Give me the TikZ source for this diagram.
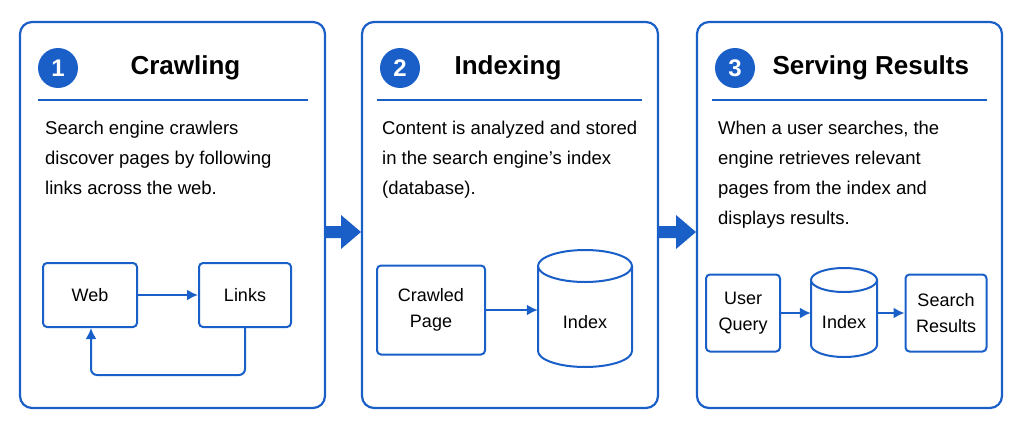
\documentclass[tikz,border=0pt]{standalone}
\usepackage{fontspec}
\setmainfont{Liberation Sans}
\usetikzlibrary{arrows.meta}
\definecolor{bl}{HTML}{1A5FC8}
\begin{document}
\begin{tikzpicture}[x=1pt,y=-1pt,
 panel/.style={draw=bl,line width=2.2pt,rounded corners=12pt},
 num/.style={circle,fill=bl,text=white,minimum size=40pt,inner sep=0pt,font=\fontsize{24}{24}\selectfont\bfseries},
 ttl/.style={anchor=west,font=\fontsize{26}{26}\selectfont\bfseries},
 body/.style={anchor=north west,align=left,font=\fontsize{18.5}{30}\selectfont,inner sep=0pt},
 box/.style={draw=bl,line width=2pt,rounded corners=4pt,align=center,font=\fontsize{18}{26}\selectfont,inner sep=0pt},
 lbl/.style={align=center,font=\fontsize{18}{26}\selectfont,inner sep=0pt},
 arr/.style={draw=bl,line width=2pt,-{Latex[length=11pt,width=11pt]}},
 cyl/.style={draw=bl,line width=2pt,fill=white}]
\useasboundingbox (0,0) rectangle (1024,431);
% panels
\draw[panel] (20,22) rectangle (325,408);
\draw[panel] (362,22) rectangle (658,408);
\draw[panel] (697,22) rectangle (1002,408);
% headers
\node[num] (n1) at (58,68) {1};
\node[ttl] (t1) at (127,68) {Crawling};
\draw[bl,line width=1.8pt] (38,100) -- (308,100);
\node[num] (n2) at (400,68) {2};
\node[ttl] (t2) at (451,68) {Indexing};
\draw[bl,line width=1.8pt] (377,100) -- (642,100);
\node[num] (n3) at (735,68) {3};
\node[ttl] (t3) at (769,68) {Serving Results};
\draw[bl,line width=1.8pt] (712,100) -- (987,100);
% bodies
\node[body] (b1) at (45,121) {Search engine crawlers\\discover pages by following\\links across the web.};
\node[body] (b2) at (382,121) {Content is analyzed and stored\\in the search engine’s index\\(database).};
\node[body] (b3) at (718,121) {When a user searches, the\\engine retrieves relevant\\pages from the index and\\displays results.};
% panel 1
\node[box,minimum width=94pt,minimum height=64pt] (web) at (90,295) {Web};
\node[box,minimum width=92pt,minimum height=64pt] (links) at (245,295) {Links};
\draw[arr] (web) -- (links);
\coordinate (c1) at (245,375);
\coordinate (c2) at (91,375);
\draw[arr,rounded corners=6pt] (links.south) -- (c1) -- (c2) -- (web.south -| c2);
% panel 2
\node[box,minimum width=108pt,minimum height=89pt] (cp) at (431,310) {Crawled\\Page};
\draw[cyl] (538,266) -- (538,351) arc (180:360:47pt and 16pt) -- (632,266);
\draw[cyl] (585,266) ellipse (47pt and 16pt);
\node[lbl,minimum width=94pt,minimum height=90pt] (idx) at (585,322) {Index};
\draw[arr] (cp.east) -- (cp.east -| idx.west);
% panel 3
\node[box,minimum width=74pt,minimum height=77pt] (uq) at (743,313) {User\\Query};
\draw[cyl] (811,280) -- (811,345) arc (180:360:33pt and 12pt) -- (877,280);
\draw[cyl] (844,280) ellipse (33pt and 12pt);
\node[lbl,minimum width=66pt,minimum height=70pt] (idx3) at (844,322) {Index};
\node[box,minimum width=81pt,minimum height=77pt] (sr) at (946,313) {Search\\Results};
\draw[arr] (uq.east) -- (uq.east -| idx3.west);
\draw[arr] (uq.east -| idx3.east) -- (sr.west);
% big arrows
\fill[bl] (325,226) -- (341,226) -- (341,215) -- (361,232) -- (341,249) -- (341,238) -- (325,238) -- cycle;
\fill[bl] (659,226) -- (676,226) -- (676,215) -- (696,232) -- (676,249) -- (676,238) -- (659,238) -- cycle;
\end{tikzpicture}
\end{document}
